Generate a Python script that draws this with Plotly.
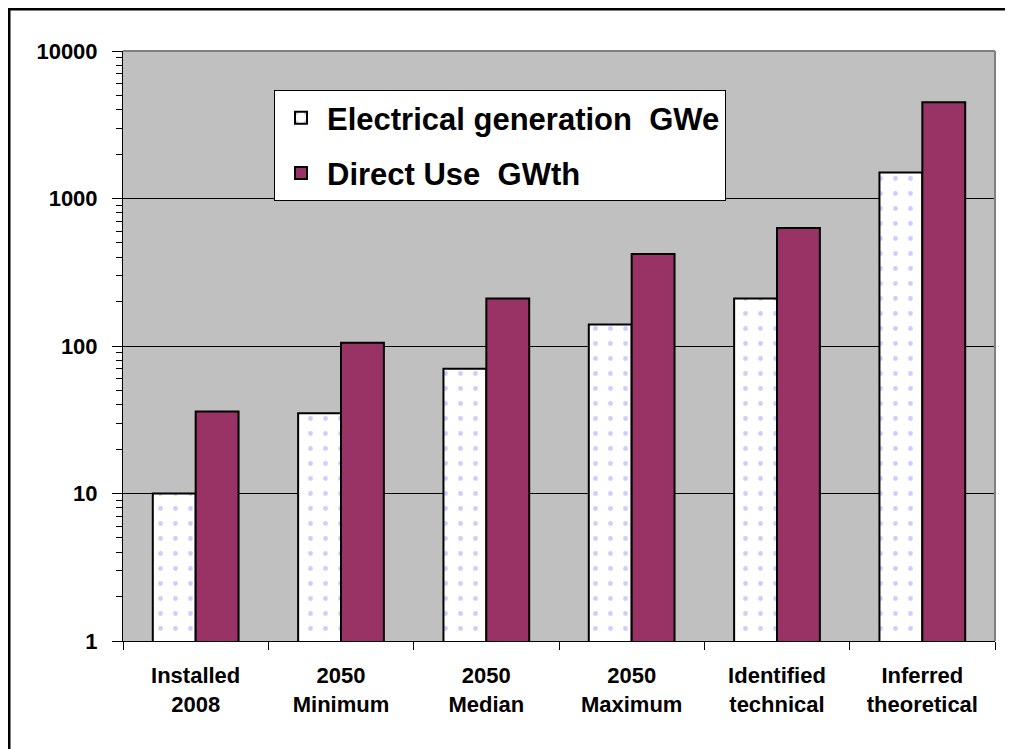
import plotly.graph_objects as go

categories = ["Installed<br>2008", "2050<br>Minimum", "2050<br>Median",
              "2050<br>Maximum", "Identified<br>technical", "Inferred<br>theoretical"]
electrical_gwe = [10, 35, 70, 140, 210, 1500]
direct_use_gwth = [36, 105, 210, 420, 630, 4500]
y_tickvals = [1, 10, 100, 1000, 10000]
y_ticktext = ["1", "10", "100", "1000", "10000"]

FONT = "Arial, Liberation Sans, sans-serif"

fig = go.Figure()
fig.add_trace(go.Bar(
    x=categories, y=electrical_gwe, name="Electrical generation  GWe",
    legendgroup="a",
    marker=dict(color="white", line=dict(color="black", width=2),
                pattern=dict(shape=".", fgcolor="#9c9cff", bgcolor="white",
                             size=15, solidity=0.08)),
))
fig.add_trace(go.Bar(
    x=categories, y=direct_use_gwth, name="Direct Use  GWth",
    legendgroup="b",
    marker=dict(color="#993366", line=dict(color="black", width=2)),
))

# page has an 8px body margin: figure coordinates = screen - 8
OFF = 8
W, H = 1005, 741
L, R, T, B = 115, 18, 43, 108
pw, ph = W - L - R, H - T - B

def px(x):  # screen x -> paper
    return (x - OFF - L) / pw

def py(y):  # screen y -> paper
    return (H - B - (y - OFF)) / ph

fig.update_layout(
    width=W, height=H,
    margin=dict(l=L, r=R, t=T, b=B, autoexpand=False),
    paper_bgcolor="white", plot_bgcolor="#c0c0c0",
    barmode="group", bargap=0.41, bargroupgap=0,
    font=dict(family=FONT, color="black"),
    legend=dict(x=px(274), y=py(90), xanchor="left", yanchor="top",
                bgcolor="white", bordercolor="black", borderwidth=1,
                font=dict(size=31, family=FONT, color="black", weight="bold"),
                traceorder="grouped", tracegroupgap=12,
                itemwidth=42),
    xaxis=dict(showgrid=False, ticks="outside", tickson="boundaries",
               ticklen=8, tickcolor="black", tickwidth=1,
               showline=True, linecolor="black", linewidth=1,
               tickfont=dict(size=22, family=FONT, weight="bold"),
               ticklabelstandoff=15),
    yaxis=dict(type="log", range=[0, 4], tickvals=y_tickvals, ticktext=y_ticktext,
               showgrid=True, gridcolor="black", gridwidth=1,
               ticks="outside", ticklen=10, tickcolor="black",
               showline=True, linecolor="black", linewidth=1,
               tickfont=dict(size=22, family=FONT, weight="bold"),
               ticklabelstandoff=10,
               minor=dict(ticks="outside", ticklen=6, tickcolor="black",
                          dtick="D1", showgrid=False),
               zeroline=False),
    shapes=[
        dict(type="line", xref="paper", yref="paper", x0=1, x1=1, y0=0, y1=1,
             line=dict(color="#808080", width=2)),
        dict(type="line", xref="paper", yref="paper", x0=0, x1=1, y0=1, y1=1,
             line=dict(color="#808080", width=2)),
        dict(type="line", xref="paper", yref="paper", x0=px(9), x1=px(9),
             y0=py(9), y1=py(760), line=dict(color="black", width=3)),
        dict(type="line", xref="paper", yref="paper", x0=px(8), x1=px(1020),
             y0=py(9), y1=py(9), line=dict(color="black", width=3)),
    ],
)

fig.write_html("out.html")
